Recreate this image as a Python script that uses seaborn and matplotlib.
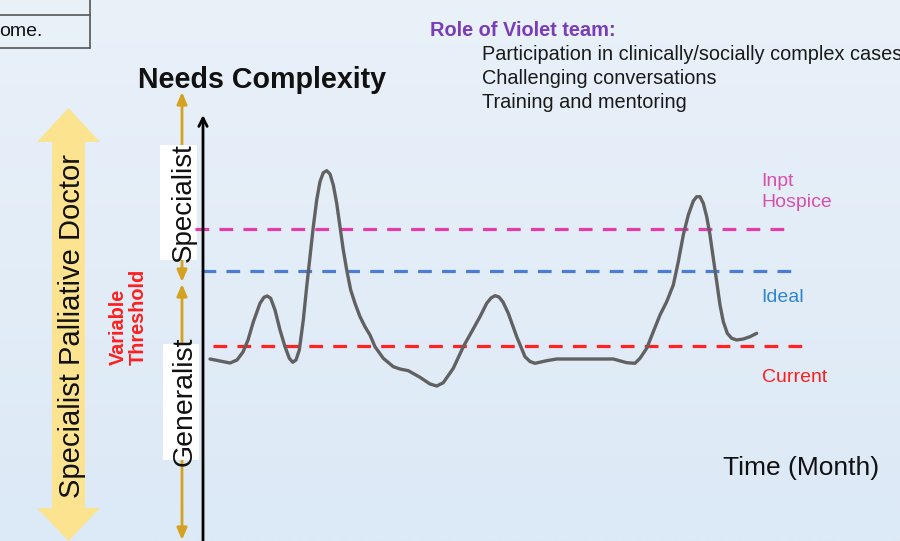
import matplotlib
matplotlib.use("Agg")
import matplotlib.pyplot as plt
import matplotlib.patches as mpatches
import numpy as np
import pandas as pd
import seaborn as sns

sns.set_style("white")
plt.rcParams["font.family"] = ["Liberation Sans", "DejaVu Sans"]

# complexity curve (time and complexity in arbitrary slide units)
month = [0.7, 1.7, 2.7, 3.4, 4.0, 4.5, 5.03, 5.7, 6.1, 6.43, 6.77, 7.2, 7.7, 8.2,
         8.63, 8.97, 9.3, 9.63, 10.03, 10.37, 10.7, 11.03, 11.37, 11.7, 12.03, 12.37,
         12.7, 13.03, 13.37, 13.7, 14.03, 14.37, 14.77, 15.2, 15.7, 16.2, 16.7, 17.2,
         18.03, 19.03, 19.7, 20.53, 21.7, 22.7, 23.37, 24.03, 25.03, 26.03, 26.87,
         27.7, 28.37, 28.8, 29.2, 29.6, 30.0, 30.53, 31.37, 32.2, 32.7, 33.2, 34.37,
         35.37, 37.7, 41.03, 42.37, 43.2, 43.7, 44.37, 45.03, 45.7, 46.37, 47.03,
         47.53, 48.03, 48.53, 49.03, 49.37, 49.7, 50.03, 50.37, 50.7, 51.03, 51.37,
         51.7, 52.03, 52.43, 52.87, 53.37, 54.03, 54.7, 55.37]
complexity = [18.2, 18.0, 17.8, 18.1, 18.9, 20.1, 21.9, 23.77, 24.37, 24.5, 24.27, 23.1, 21.1, 19.43,
              18.27, 17.87, 18.1, 19.1, 22.1, 25.43, 28.43, 31.43, 34.1, 35.93, 36.83, 37.03,
              36.7, 35.6, 33.77, 31.43, 29.1, 27.1, 25.1, 23.77, 22.43, 21.43, 20.6, 19.43,
              18.27, 17.43, 17.2, 17.03, 16.37, 15.7, 15.5, 15.83, 17.27, 19.43, 20.93,
              22.43, 23.77, 24.3, 24.53, 24.4, 23.9, 22.77, 20.43, 18.43, 17.95, 17.77, 18.03,
              18.2, 18.2, 18.2, 17.83, 17.77, 18.27, 19.27, 20.93, 22.6, 23.93, 25.6,
              27.93, 30.6, 32.6, 34.0, 34.43, 34.43, 33.77, 32.43, 30.6, 28.27, 25.93,
              23.6, 21.93, 20.77, 20.27, 20.1, 20.2, 20.43, 20.77]

threshold_names = ["Inpt Hospice", "Ideal", "Current"]
threshold_levels = [31.2, 27.0, 19.5]
threshold_start = [-0.8, -0.1, 1.0]
threshold_end = [58.7, 59.4, 60.2]
threshold_colors = ["#e43ca8", "#4a7ed6", "#ff2222"]
label_colors = ["#d94fb0", "#2f86d0", "#ff1f1f"]

role_title = "Role of Violet team:"
role_items = ["Participation in clinically/socially complex cases",
              "Challenging conversations",
              "Training and mentoring"]

fig = plt.figure(figsize=(9, 5.41), dpi=100)

# slide background and decorations, in slide pixels
deco = fig.add_axes([0, 0, 1, 1])
deco.set_xlim(0, 900)
deco.set_ylim(541, 0)
deco.axis("off")
grad = np.linspace(0, 1, 256).reshape(-1, 1)
top = np.array([233, 241, 249]) / 255
bottom = np.array([220, 233, 246]) / 255
img = top + (bottom - top) * grad[..., None]
deco.imshow(img, extent=(0, 900, 541, 0), aspect="auto", zorder=0)

# top-left table fragment
deco.plot([0, 90], [15, 15], color="#555555", lw=1.2)
deco.plot([0, 90], [48, 48], color="#555555", lw=1.2)
deco.plot([90, 90], [0, 48], color="#555555", lw=1.2)
deco.text(-1, 32, "ome.", fontsize=14, ha="left", va="center", color="#111111")

# role of the team
deco.text(430, 31, role_title, fontsize=14.4, fontweight="bold", color="#7a3db8", va="center")
for i, item in enumerate(role_items):
    deco.text(482, 55 + 24 * i, item, fontsize=14.3, color="#1a1a1a", va="center")

deco.text(138, 80, "Needs Complexity", fontsize=20.6, fontweight="bold", va="center", color="#111111")
deco.text(723, 468, "Time (Month)", fontsize=19, va="center", color="#111111")

# big yellow double arrow
arrow_pts = [(68.5, 108), (100, 142), (85, 142), (85, 508), (100, 508), (68.5, 541),
             (37, 508), (52, 508), (52, 142), (37, 142)]
deco.add_patch(mpatches.Polygon(arrow_pts, closed=True, facecolor="#fce38f", edgecolor="none", zorder=2))
deco.text(72, 326, "Specialist Palliative Doctor", rotation=90, fontsize=21,
          ha="center", va="center", color="#111111", zorder=3)

deco.text(128, 365, "Variable\nThreshold", rotation=90, fontsize=14.3, fontweight="bold",
          color="#ff1f1f", ha="center", va="bottom", multialignment="left", linespacing=1.05)

# gold arrows for specialist / generalist ranges
gold = "#d4a220"
gold_style = "<|-|>,head_length=0.7,head_width=0.3"
deco.annotate("", xy=(182, 92), xytext=(182, 282),
              arrowprops=dict(arrowstyle=gold_style, color=gold, lw=2, shrinkA=0, shrinkB=0))
deco.annotate("", xy=(182, 284), xytext=(182, 540),
              arrowprops=dict(arrowstyle=gold_style, color=gold, lw=2, shrinkA=0, shrinkB=0))
deco.add_patch(mpatches.Rectangle((160, 145), 37, 115, facecolor="white", edgecolor="none", zorder=3))
deco.add_patch(mpatches.Rectangle((163, 344), 36, 116, facecolor="white", edgecolor="none", zorder=3))
deco.text(184, 203, "Specialist", rotation=90, fontsize=20, ha="center", va="center", color="#111111", zorder=4)
deco.text(185, 401, "Generalist", rotation=90, fontsize=20.5, ha="center", va="center", color="#111111", zorder=4)

# threshold labels
deco.text(761, 192, "Inpt\nHospice", fontsize=14, color=label_colors[0], va="center", linespacing=1.25)
deco.text(761, 297, "Ideal", fontsize=14, color=label_colors[1], va="center")
deco.text(762, 377, "Current", fontsize=14, color=label_colors[2], va="center")

# the chart itself
ax = fig.add_axes([150 / 900, 0, 750 / 900, 426 / 541])
ax.patch.set_alpha(0)
ax.set_xlim(-5.3, 69.7)
ax.set_ylim(0, 42.6)
ax.axis("off")

for lvl, x0, x1, c in zip(threshold_levels, threshold_start, threshold_end, threshold_colors):
    ax.plot([x0, x1], [lvl, lvl], color=c, lw=2.3, linestyle=(0, (4.3, 3.2)))

df = pd.DataFrame({"month": month, "complexity": complexity})
sns.lineplot(data=df, x="month", y="complexity", ax=ax, color="#616161", lw=2.4,
             estimator=None, sort=False, solid_joinstyle="round", solid_capstyle="round")

ax.annotate("", xy=(0, 42.6), xytext=(0, 0),
            arrowprops=dict(arrowstyle="->,head_length=0.6,head_width=0.3", color="black", lw=2,
                            shrinkA=0, shrinkB=0), annotation_clip=False)

fig.savefig("out.png", dpi=100)
